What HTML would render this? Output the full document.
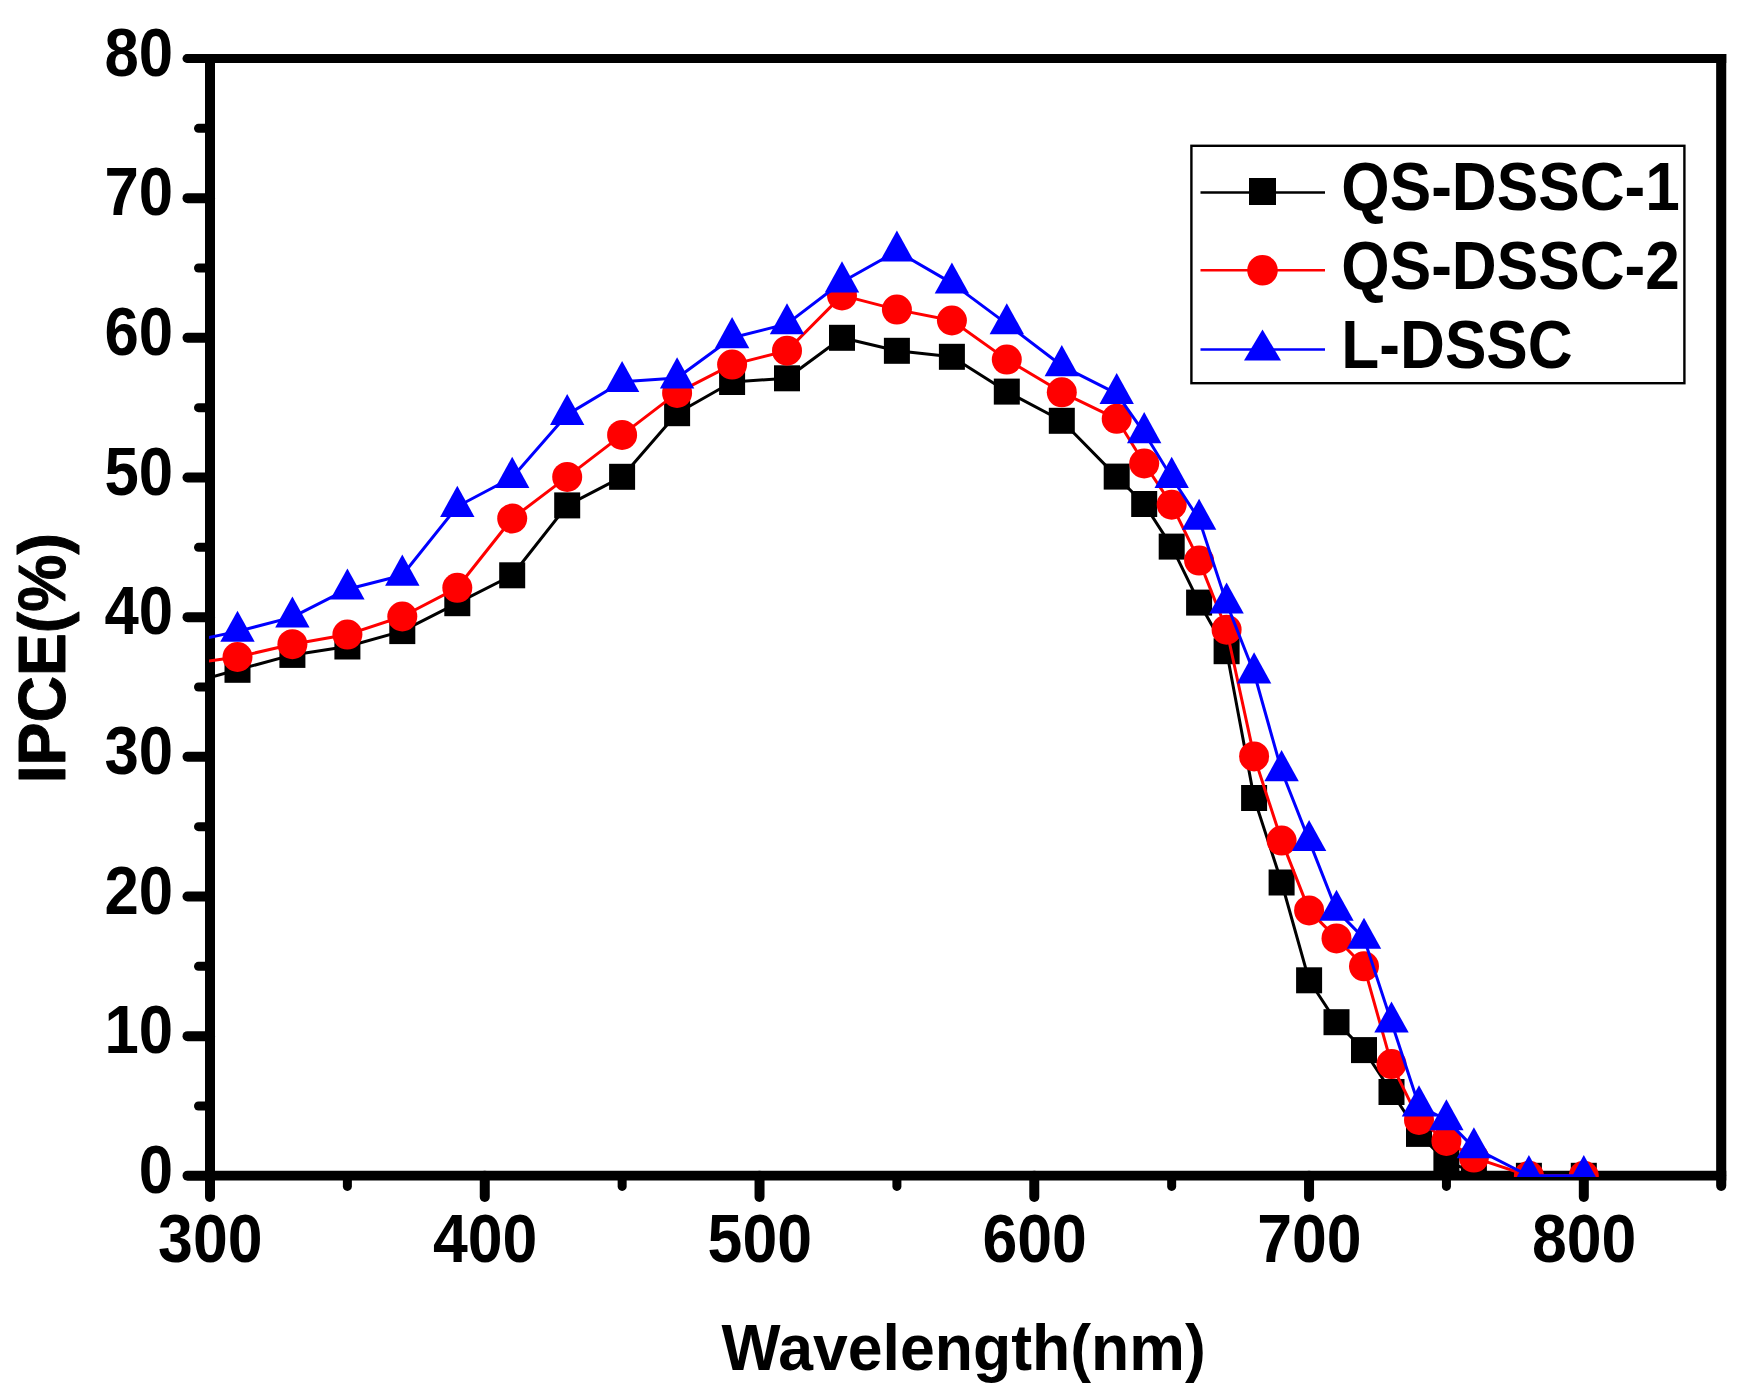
<!DOCTYPE html>
<html lang="en"><head><meta charset="utf-8"><title>IPCE vs Wavelength</title>
<style>html,body{margin:0;padding:0;background:#fff}body{width:1753px;height:1400px;overflow:hidden}</style></head>
<body>
<svg width="1753" height="1400" viewBox="0 0 1753 1400" style="display:block">
<rect width="1753" height="1400" fill="#fff"/>
<defs><clipPath id="c"><rect x="209.0" y="52.5" width="1513.2" height="1124.5"/></clipPath></defs>
<g stroke="#000" fill="none">
<line x1="210.0" y1="58.5" x2="1726.25" y2="58.5" stroke-width="8.8"/>
<line x1="210.0" y1="1175.65" x2="1726.25" y2="1175.65" stroke-width="9.9"/>
<line x1="210.0" y1="54.1" x2="210.0" y2="1175.8" stroke-width="10"/>
<line x1="1721.2" y1="54.1" x2="1721.2" y2="1175.8" stroke-width="10.1"/>
</g>
<g stroke="#000" stroke-linecap="round" fill="none">
<line x1="187.5" y1="1175.65" x2="210.0" y2="1175.65" stroke-width="10"/>
<line x1="198.5" y1="1105.97" x2="210.0" y2="1105.97" stroke-width="9"/>
<line x1="187.5" y1="1036.14" x2="210.0" y2="1036.14" stroke-width="10"/>
<line x1="198.5" y1="966.31" x2="210.0" y2="966.31" stroke-width="9"/>
<line x1="187.5" y1="896.47" x2="210.0" y2="896.47" stroke-width="10"/>
<line x1="198.5" y1="826.64" x2="210.0" y2="826.64" stroke-width="9"/>
<line x1="187.5" y1="756.81" x2="210.0" y2="756.81" stroke-width="10"/>
<line x1="198.5" y1="686.98" x2="210.0" y2="686.98" stroke-width="9"/>
<line x1="187.5" y1="617.15" x2="210.0" y2="617.15" stroke-width="10"/>
<line x1="198.5" y1="547.32" x2="210.0" y2="547.32" stroke-width="9"/>
<line x1="187.5" y1="477.49" x2="210.0" y2="477.49" stroke-width="10"/>
<line x1="198.5" y1="407.66" x2="210.0" y2="407.66" stroke-width="9"/>
<line x1="187.5" y1="337.82" x2="210.0" y2="337.82" stroke-width="10"/>
<line x1="198.5" y1="267.99" x2="210.0" y2="267.99" stroke-width="9"/>
<line x1="187.5" y1="198.16" x2="210.0" y2="198.16" stroke-width="10"/>
<line x1="198.5" y1="128.33" x2="210.0" y2="128.33" stroke-width="9"/>
<line x1="186.9" y1="58.50" x2="210.0" y2="58.50" stroke-width="8.8"/>
<line x1="210.00" y1="1175.8" x2="210.00" y2="1197" stroke-width="10"/>
<line x1="347.38" y1="1175.8" x2="347.38" y2="1186.4" stroke-width="9"/>
<line x1="484.76" y1="1175.8" x2="484.76" y2="1197" stroke-width="10"/>
<line x1="622.15" y1="1175.8" x2="622.15" y2="1186.4" stroke-width="9"/>
<line x1="759.53" y1="1175.8" x2="759.53" y2="1197" stroke-width="10"/>
<line x1="896.91" y1="1175.8" x2="896.91" y2="1186.4" stroke-width="9"/>
<line x1="1034.29" y1="1175.8" x2="1034.29" y2="1197" stroke-width="10"/>
<line x1="1171.67" y1="1175.8" x2="1171.67" y2="1186.4" stroke-width="9"/>
<line x1="1309.05" y1="1175.8" x2="1309.05" y2="1197" stroke-width="10"/>
<line x1="1446.44" y1="1175.8" x2="1446.44" y2="1186.4" stroke-width="9"/>
<line x1="1583.82" y1="1175.8" x2="1583.82" y2="1197" stroke-width="10"/>
<line x1="1721.20" y1="1175.8" x2="1721.20" y2="1185.8500000000001" stroke-width="10.1"/>
</g>
<g clip-path="url(#c)">
<polyline points="208.9,677.8 237.5,669.8 292.4,654.9 347.4,646.5 402.3,631.1 457.3,603.2 512.2,575.3 567.2,505.4 622.1,476.8 677.1,413.2 732.1,382.0 787.0,378.3 842.0,337.8 896.9,350.8 951.9,356.8 1006.8,391.6 1061.8,420.8 1116.7,476.6 1144.2,504.0 1171.7,546.6 1199.1,602.6 1226.6,651.2 1254.1,798.0 1281.6,882.5 1309.1,980.3 1336.5,1022.2 1364.0,1050.1 1391.5,1092.0 1419.0,1133.9 1446.4,1161.8 1473.9,1171.6 1528.9,1175.8 1583.8,1175.8" fill="none" stroke="#000" stroke-width="3.0" stroke-linejoin="round"/>
<rect x="224.5" y="656.8" width="26" height="26" fill="#000"/>
<rect x="279.4" y="641.9" width="26" height="26" fill="#000"/>
<rect x="334.4" y="633.5" width="26" height="26" fill="#000"/>
<rect x="389.3" y="618.1" width="26" height="26" fill="#000"/>
<rect x="444.3" y="590.2" width="26" height="26" fill="#000"/>
<rect x="499.2" y="562.3" width="26" height="26" fill="#000"/>
<rect x="554.2" y="492.4" width="26" height="26" fill="#000"/>
<rect x="609.1" y="463.8" width="26" height="26" fill="#000"/>
<rect x="664.1" y="400.2" width="26" height="26" fill="#000"/>
<rect x="719.1" y="369.0" width="26" height="26" fill="#000"/>
<rect x="774.0" y="365.3" width="26" height="26" fill="#000"/>
<rect x="829.0" y="324.8" width="26" height="26" fill="#000"/>
<rect x="883.9" y="337.8" width="26" height="26" fill="#000"/>
<rect x="938.9" y="343.8" width="26" height="26" fill="#000"/>
<rect x="993.8" y="378.6" width="26" height="26" fill="#000"/>
<rect x="1048.8" y="407.8" width="26" height="26" fill="#000"/>
<rect x="1103.7" y="463.6" width="26" height="26" fill="#000"/>
<rect x="1131.2" y="491.0" width="26" height="26" fill="#000"/>
<rect x="1158.7" y="533.6" width="26" height="26" fill="#000"/>
<rect x="1186.1" y="589.6" width="26" height="26" fill="#000"/>
<rect x="1213.6" y="638.2" width="26" height="26" fill="#000"/>
<rect x="1241.1" y="785.0" width="26" height="26" fill="#000"/>
<rect x="1268.6" y="869.5" width="26" height="26" fill="#000"/>
<rect x="1296.1" y="967.3" width="26" height="26" fill="#000"/>
<rect x="1323.5" y="1009.2" width="26" height="26" fill="#000"/>
<rect x="1351.0" y="1037.1" width="26" height="26" fill="#000"/>
<rect x="1378.5" y="1079.0" width="26" height="26" fill="#000"/>
<rect x="1406.0" y="1120.9" width="26" height="26" fill="#000"/>
<rect x="1433.4" y="1148.8" width="26" height="26" fill="#000"/>
<rect x="1460.9" y="1158.6" width="26" height="26" fill="#000"/>
<rect x="1515.9" y="1162.8" width="26" height="26" fill="#000"/>
<rect x="1570.8" y="1162.8" width="26" height="26" fill="#000"/>
<polyline points="208.9,661.1 237.5,657.0 292.4,644.2 347.4,634.6 402.3,616.5 457.3,587.8 512.2,518.5 567.2,476.9 622.1,434.9 677.1,392.9 732.1,364.6 787.0,350.7 842.0,295.4 896.9,309.6 951.9,320.5 1006.8,359.6 1061.8,392.3 1116.7,418.8 1144.2,463.5 1171.7,504.7 1199.1,560.6 1226.6,629.7 1254.1,756.4 1281.6,840.6 1309.1,910.4 1336.5,938.4 1364.0,966.3 1391.5,1064.1 1419.0,1119.9 1446.4,1140.9 1473.9,1157.6 1528.9,1175.8 1583.8,1175.8" fill="none" stroke="#f00" stroke-width="3.0" stroke-linejoin="round"/>
<circle cx="237.5" cy="657.0" r="15" fill="#f00"/>
<circle cx="292.4" cy="644.2" r="15" fill="#f00"/>
<circle cx="347.4" cy="634.6" r="15" fill="#f00"/>
<circle cx="402.3" cy="616.5" r="15" fill="#f00"/>
<circle cx="457.3" cy="587.8" r="15" fill="#f00"/>
<circle cx="512.2" cy="518.5" r="15" fill="#f00"/>
<circle cx="567.2" cy="476.9" r="15" fill="#f00"/>
<circle cx="622.1" cy="434.9" r="15" fill="#f00"/>
<circle cx="677.1" cy="392.9" r="15" fill="#f00"/>
<circle cx="732.1" cy="364.6" r="15" fill="#f00"/>
<circle cx="787.0" cy="350.7" r="15" fill="#f00"/>
<circle cx="842.0" cy="295.4" r="15" fill="#f00"/>
<circle cx="896.9" cy="309.6" r="15" fill="#f00"/>
<circle cx="951.9" cy="320.5" r="15" fill="#f00"/>
<circle cx="1006.8" cy="359.6" r="15" fill="#f00"/>
<circle cx="1061.8" cy="392.3" r="15" fill="#f00"/>
<circle cx="1116.7" cy="418.8" r="15" fill="#f00"/>
<circle cx="1144.2" cy="463.5" r="15" fill="#f00"/>
<circle cx="1171.7" cy="504.7" r="15" fill="#f00"/>
<circle cx="1199.1" cy="560.6" r="15" fill="#f00"/>
<circle cx="1226.6" cy="629.7" r="15" fill="#f00"/>
<circle cx="1254.1" cy="756.4" r="15" fill="#f00"/>
<circle cx="1281.6" cy="840.6" r="15" fill="#f00"/>
<circle cx="1309.1" cy="910.4" r="15" fill="#f00"/>
<circle cx="1336.5" cy="938.4" r="15" fill="#f00"/>
<circle cx="1364.0" cy="966.3" r="15" fill="#f00"/>
<circle cx="1391.5" cy="1064.1" r="15" fill="#f00"/>
<circle cx="1419.0" cy="1119.9" r="15" fill="#f00"/>
<circle cx="1446.4" cy="1140.9" r="15" fill="#f00"/>
<circle cx="1473.9" cy="1157.6" r="15" fill="#f00"/>
<circle cx="1528.9" cy="1175.8" r="15" fill="#f00"/>
<circle cx="1583.8" cy="1175.8" r="15" fill="#f00"/>
<polyline points="208.9,637.5 237.5,631.4 292.4,617.1 347.4,589.2 402.3,575.3 457.3,506.5 512.2,477.5 567.2,414.6 622.1,381.7 677.1,378.0 732.1,337.8 787.0,323.9 842.0,282.0 896.9,251.2 951.9,283.1 1006.8,323.9 1061.8,365.8 1116.7,393.7 1144.2,432.8 1171.7,477.5 1199.1,519.4 1226.6,603.2 1254.1,673.0 1281.6,770.8 1309.1,840.6 1336.5,910.4 1364.0,938.4 1391.5,1022.2 1419.0,1106.0 1446.4,1119.9 1473.9,1147.9 1528.9,1175.8 1583.8,1175.8" fill="none" stroke="#00f" stroke-width="3.0" stroke-linejoin="round"/>
<polygon points="237.5,610.7 220.3,641.8 254.7,641.8" fill="#00f"/>
<polygon points="292.4,596.4 275.2,627.5 309.6,627.5" fill="#00f"/>
<polygon points="347.4,568.5 330.2,599.6 364.6,599.6" fill="#00f"/>
<polygon points="402.3,554.6 385.1,585.7 419.5,585.7" fill="#00f"/>
<polygon points="457.3,485.8 440.1,516.9 474.5,516.9" fill="#00f"/>
<polygon points="512.2,456.8 495.0,487.9 529.4,487.9" fill="#00f"/>
<polygon points="567.2,393.9 550.0,425.0 584.4,425.0" fill="#00f"/>
<polygon points="622.1,361.0 604.9,392.1 639.3,392.1" fill="#00f"/>
<polygon points="677.1,357.3 659.9,388.4 694.3,388.4" fill="#00f"/>
<polygon points="732.1,317.1 714.9,348.2 749.3,348.2" fill="#00f"/>
<polygon points="787.0,303.2 769.8,334.3 804.2,334.3" fill="#00f"/>
<polygon points="842.0,261.3 824.8,292.4 859.2,292.4" fill="#00f"/>
<polygon points="896.9,230.5 879.7,261.6 914.1,261.6" fill="#00f"/>
<polygon points="951.9,262.4 934.7,293.5 969.1,293.5" fill="#00f"/>
<polygon points="1006.8,303.2 989.6,334.3 1024.0,334.3" fill="#00f"/>
<polygon points="1061.8,345.1 1044.6,376.2 1079.0,376.2" fill="#00f"/>
<polygon points="1116.7,373.0 1099.5,404.1 1133.9,404.1" fill="#00f"/>
<polygon points="1144.2,412.1 1127.0,443.2 1161.4,443.2" fill="#00f"/>
<polygon points="1171.7,456.8 1154.5,487.9 1188.9,487.9" fill="#00f"/>
<polygon points="1199.1,498.7 1181.9,529.8 1216.3,529.8" fill="#00f"/>
<polygon points="1226.6,582.5 1209.4,613.6 1243.8,613.6" fill="#00f"/>
<polygon points="1254.1,652.3 1236.9,683.4 1271.3,683.4" fill="#00f"/>
<polygon points="1281.6,750.1 1264.4,781.2 1298.8,781.2" fill="#00f"/>
<polygon points="1309.1,819.9 1291.9,851.0 1326.3,851.0" fill="#00f"/>
<polygon points="1336.5,889.7 1319.3,920.8 1353.7,920.8" fill="#00f"/>
<polygon points="1364.0,917.7 1346.8,948.8 1381.2,948.8" fill="#00f"/>
<polygon points="1391.5,1001.5 1374.3,1032.6 1408.7,1032.6" fill="#00f"/>
<polygon points="1419.0,1085.3 1401.8,1116.4 1436.2,1116.4" fill="#00f"/>
<polygon points="1446.4,1099.2 1429.2,1130.3 1463.6,1130.3" fill="#00f"/>
<polygon points="1473.9,1127.2 1456.7,1158.3 1491.1,1158.3" fill="#00f"/>
<polygon points="1528.9,1155.1 1511.7,1186.2 1546.1,1186.2" fill="#00f"/>
<polygon points="1583.8,1155.1 1566.6,1186.2 1601.0,1186.2" fill="#00f"/>
</g>
<g font-family='"Liberation Sans", Arial, Helvetica, sans-serif' font-weight="700" font-size="63" fill="#000">
<text transform="translate(173.2,1193.0) scale(0.98,1.10)" text-anchor="end">0</text>
<text transform="translate(173.2,1053.3) scale(0.98,1.10)" text-anchor="end">10</text>
<text transform="translate(173.2,913.7) scale(0.98,1.10)" text-anchor="end">20</text>
<text transform="translate(173.2,774.0) scale(0.98,1.10)" text-anchor="end">30</text>
<text transform="translate(173.2,634.4) scale(0.98,1.10)" text-anchor="end">40</text>
<text transform="translate(173.2,494.7) scale(0.98,1.10)" text-anchor="end">50</text>
<text transform="translate(173.2,355.0) scale(0.98,1.10)" text-anchor="end">60</text>
<text transform="translate(173.2,215.4) scale(0.98,1.10)" text-anchor="end">70</text>
<text transform="translate(173.2,75.7) scale(0.98,1.10)" text-anchor="end">80</text>
<text transform="translate(210.3,1261.6) scale(0.993,1.095)" text-anchor="middle">300</text>
<text transform="translate(485.1,1261.6) scale(0.993,1.095)" text-anchor="middle">400</text>
<text transform="translate(759.8,1261.6) scale(0.993,1.095)" text-anchor="middle">500</text>
<text transform="translate(1034.6,1261.6) scale(0.993,1.095)" text-anchor="middle">600</text>
<text transform="translate(1309.4,1261.6) scale(0.993,1.095)" text-anchor="middle">700</text>
<text transform="translate(1584.1,1261.6) scale(0.993,1.095)" text-anchor="middle">800</text>
<text transform="translate(963.6,1369.7) scale(0.9934,1.04)" text-anchor="middle">Wavelength(nm)</text>
<text transform="translate(64.8,658.2) rotate(-90) scale(1.021,1.06)" text-anchor="middle" stroke="#000" stroke-width="0.9" stroke-linejoin="round">IPCE(%)</text>
</g>
<rect x="1191.4" y="145.8" width="493" height="237.4" fill="#fff" stroke="#000" stroke-width="2.4"/>
<g font-family='"Liberation Sans", Arial, Helvetica, sans-serif' font-weight="700" font-size="63" fill="#000">
<line x1="1200.5" y1="192.5" x2="1325" y2="192.5" stroke="#000" stroke-width="2.6"/>
<rect x="1249.0" y="178.0" width="27" height="27" fill="#000"/>
<text transform="translate(1341.3,210.3) scale(0.987,1.083)">QS-DSSC-1</text>
<line x1="1200.5" y1="270.3" x2="1325" y2="270.3" stroke="#f00" stroke-width="2.6"/>
<circle cx="1262.5" cy="270.3" r="15.3" fill="#f00"/>
<text transform="translate(1341.3,288.9) scale(0.987,1.083)">QS-DSSC-2</text>
<line x1="1200.5" y1="349.5" x2="1325" y2="349.5" stroke="#00f" stroke-width="2.6"/>
<polygon points="1262.5,329.5 1244.0,360.5 1281.0,360.5" fill="#00f"/>
<text transform="translate(1341.3,367.6) scale(0.987,1.083)">L-DSSC</text>
</g>
</svg>
</body></html>
